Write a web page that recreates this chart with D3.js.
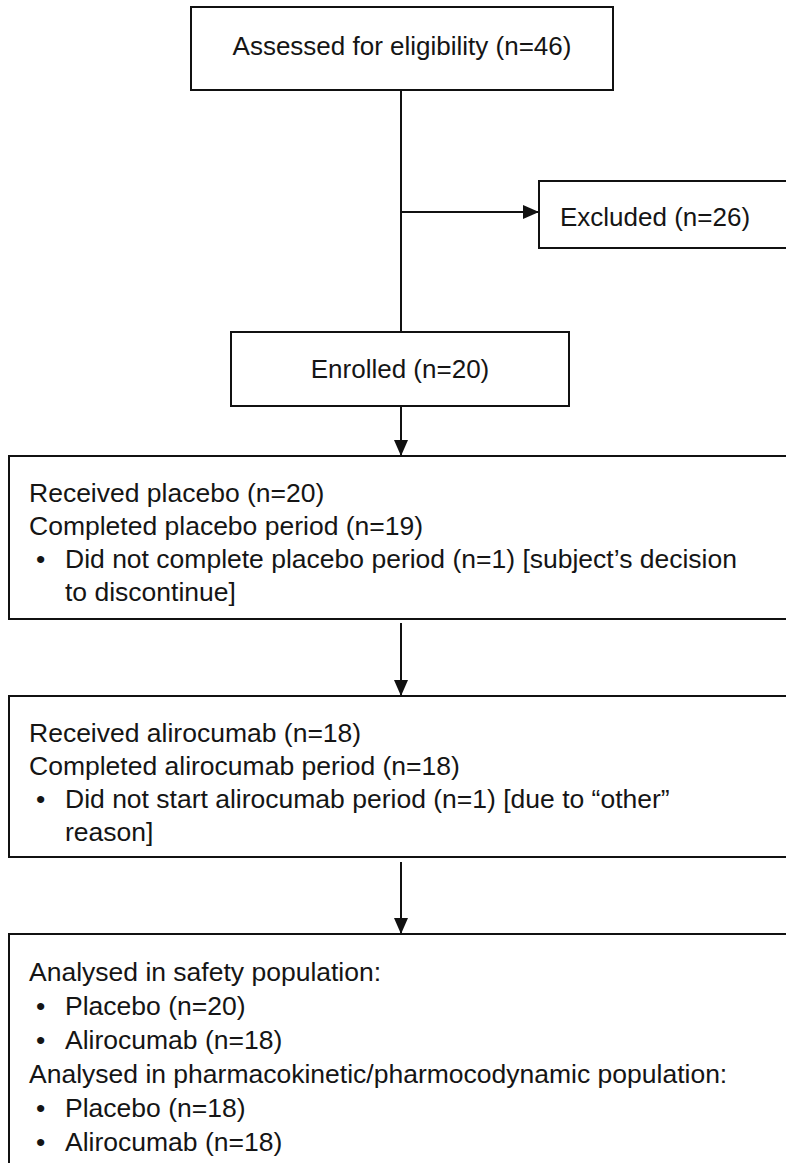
<!DOCTYPE html>
<html>
<head>
<meta charset="utf-8">
<script src="https://cdn.jsdelivr.net/npm/d3@7"></script>
<style>
  body { margin: 0; background: #fff; }
  svg { display: block; }
  text { font-family: "Liberation Sans", Arial, sans-serif; fill: #151515; }
</style>
</head>
<body>
<svg id="chart"></svg>
<script>
// flow counts
const stageLabels = ["Assessed for eligibility", "Excluded", "Enrolled"];
const stageCounts = [46, 26, 20];

// list boxes: text lines and indent level (0 plain, 1 bullet, 2 continuation)
const placeboLines = [
  `Received placebo (n=20)`,
  `Completed placebo period (n=19)`,
  `Did not complete placebo period (n=1) [subject’s decision`,
  `to discontinue]`
];
const placeboLevels = [0, 0, 1, 2];

const aliroLines = [
  `Received alirocumab (n=18)`,
  `Completed alirocumab period (n=18)`,
  `Did not start alirocumab period (n=1) [due to “other”`,
  `reason]`
];
const aliroLevels = [0, 0, 1, 2];

const analysedLines = [
  `Analysed in safety population:`,
  `Placebo (n=20)`,
  `Alirocumab (n=18)`,
  `Analysed in pharmacokinetic/pharmocodynamic population:`,
  `Placebo (n=18)`,
  `Alirocumab (n=18)`
];
const analysedLevels = [0, 1, 1, 0, 1, 1];

const W = 786, H = 1163;
const FS = 26, listFS = 26.5;
const cx = 401;
const svg = d3.select("#chart").attr("width", W).attr("height", H);

svg.append("defs").append("marker")
  .attr("id", "arrow")
  .attr("viewBox", "0 0 16 14")
  .attr("refX", 16).attr("refY", 7)
  .attr("markerWidth", 16).attr("markerHeight", 14)
  .attr("markerUnits", "userSpaceOnUse")
  .attr("orient", "auto")
  .append("path").attr("d", "M0,0 L16,7 L0,14 Z").attr("fill", "#111");

// connectors (drawn first, boxes sit on top)
const links = [
  { x1: cx, y1: 90, x2: cx, y2: 332, head: false },
  { x1: cx, y1: 212, x2: 539, y2: 212, head: true },
  { x1: cx, y1: 406, x2: cx, y2: 456, head: true },
  { x1: cx, y1: 623, x2: cx, y2: 696, head: true },
  { x1: cx, y1: 862, x2: cx, y2: 934, head: true }
];
svg.selectAll("line.link").data(links).enter().append("line")
  .attr("class", "link")
  .attr("x1", d => d.x1).attr("y1", d => d.y1)
  .attr("x2", d => d.x2).attr("y2", d => d.y2)
  .attr("stroke", "#111").attr("stroke-width", 2)
  .attr("marker-end", d => d.head ? "url(#arrow)" : null);

// simple boxes with a single label
const simpleBoxes = [
  { x0: 191, x1: 613, y0: 7, y1: 90, tx: 402, ty: 55, anchor: "middle", i: 0 },
  { x0: 539, x1: 792, y0: 181, y1: 248, tx: 560, ty: 226, anchor: "start", i: 1 },
  { x0: 231, x1: 569, y0: 332, y1: 406, tx: 400, ty: 378, anchor: "middle", i: 2 }
];
const sb = svg.selectAll("g.simple").data(simpleBoxes).enter().append("g").attr("class", "simple");
sb.append("rect")
  .attr("x", d => d.x0).attr("y", d => d.y0)
  .attr("width", d => d.x1 - d.x0).attr("height", d => d.y1 - d.y0)
  .attr("fill", "#fff").attr("stroke", "#111").attr("stroke-width", 2);
sb.append("text")
  .attr("x", d => d.tx).attr("y", d => d.ty)
  .attr("text-anchor", d => d.anchor)
  .attr("font-size", FS)
  .text(d => `${stageLabels[d.i]} (n=${stageCounts[d.i]})`);

// list boxes
const listBoxes = [
  { y0: 456, y1: 619, first: 502, step: 33, lines: placeboLines, levels: placeboLevels },
  { y0: 696, y1: 857, first: 742, step: 33, lines: aliroLines, levels: aliroLevels },
  { y0: 934, y1: 1200, first: 981, step: 34, lines: analysedLines, levels: analysedLevels }
];
const textX = 29, bulletX = 36, indentX = 65;

const lb = svg.selectAll("g.list").data(listBoxes).enter().append("g").attr("class", "list");
lb.append("rect")
  .attr("x", 9).attr("y", d => d.y0)
  .attr("width", 792).attr("height", d => d.y1 - d.y0)
  .attr("fill", "#fff").attr("stroke", "#111").attr("stroke-width", 2);

lb.each(function (box) {
  const g = d3.select(this);
  const rows = box.lines.map((t, k) => ({ t, lvl: box.levels[k], y: box.first + k * box.step }));
  g.selectAll("text.line").data(rows).enter().append("text")
    .attr("class", "line")
    .attr("x", d => d.lvl === 0 ? textX : indentX)
    .attr("y", d => d.y)
    .attr("font-size", listFS)
    .text(d => d.t);
  g.selectAll("text.bullet").data(rows.filter(d => d.lvl === 1)).enter().append("text")
    .attr("class", "bullet")
    .attr("x", bulletX).attr("y", d => d.y)
    .attr("font-size", listFS)
    .text("•");
});
</script>
</body>
</html>
